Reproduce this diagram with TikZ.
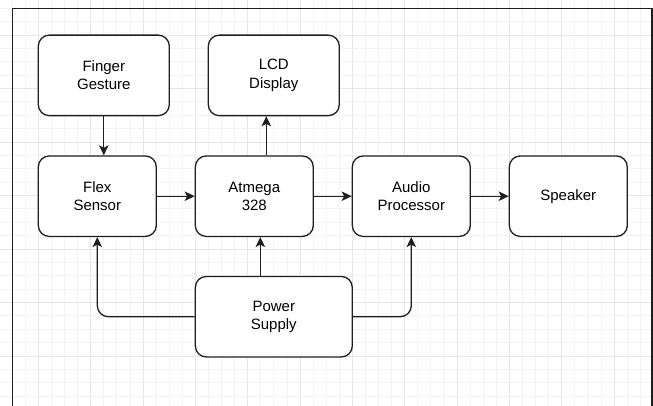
\documentclass[tikz,border=0pt]{standalone}
\usepackage{fontspec}
\setmainfont{Liberation Sans}
\usetikzlibrary{arrows.meta}
\definecolor{gridminor}{HTML}{F3F3F3}
\definecolor{gridmajor}{HTML}{E6E6E6}
\definecolor{strokec}{HTML}{1E1E1E}
\tikzset{
  blockbox/.style={draw=strokec, line width=1.3pt, rounded corners=11pt, fill=white,
    align=center, inner sep=0pt, minimum height=80.5pt, text=black,
    font=\fontsize{15}{18.3}\selectfont},
  smallbox/.style={blockbox, minimum width=118pt},
  widebox/.style={blockbox, minimum width=131pt},
  psbox/.style={blockbox, minimum width=157pt},
  arr/.style={draw=strokec, line width=1.3pt, -{Stealth[length=10pt, width=9.5pt, inset=2.5pt]}},
}
\begin{document}
\begin{tikzpicture}[x=1pt,y=-1pt]
\useasboundingbox (0,0) rectangle (653,406);
\clip (0,0) rectangle (653,406);
\fill[white] (0,0) rectangle (653,406);
% grid
\foreach \i in {-2,...,47} {
  \pgfmathsetmacro{\xx}{38.33+\i*13.083}
  \pgfmathtruncatemacro{\mm}{mod(\i+8,4)}
  \ifnum\mm=0
    \draw[gridmajor, line width=0.9pt] (\xx,0) -- (\xx,406);
  \else
    \draw[gridminor, line width=0.8pt] (\xx,0) -- (\xx,406);
  \fi
}
\foreach \j in {-2,...,27} {
  \pgfmathsetmacro{\yy}{35+\j*13.375}
  \pgfmathtruncatemacro{\mm}{mod(\j+8,4)}
  \ifnum\mm=0
    \draw[gridmajor, line width=0.9pt] (0,\yy) -- (653,\yy);
  \else
    \draw[gridminor, line width=0.8pt] (0,\yy) -- (653,\yy);
  \fi
}
% frame
\draw[strokec, line width=1.4pt] (12.5,420) -- (12.5,8.3) -- (651.8,8.3) -- (651.8,420);
% nodes
\node[widebox] (fg) at (103.8,75.4) {Finger\\Gesture};
\node[widebox] (lcd) at (273.8,75.4) {LCD\\Display};
\node[smallbox] (flex) at (97.3,196.2) {Flex\\Sensor};
\node[smallbox] (atm) at (254.3,196.2) {Atmega\\328};
\node[smallbox] (aud) at (411.3,196.2) {Audio\\Processor};
\node[smallbox] (spk) at (568.3,196.2) {Speaker};
\node[psbox] (ps) at (273.8,316.7) {Power\\Supply};
\coordinate (lcdx) at (266.3,0);
\coordinate (atmx) at (260.3,0);
% connectors
\draw[arr] (fg.south) -- (fg.south |- flex.north);
\draw[arr] (lcdx |- atm.north) -- (lcdx |- lcd.south);
\draw[arr] (flex.east) -- (atm.west);
\draw[arr] (atm.east) -- (aud.west);
\draw[arr] (aud.east) -- (spk.west);
\draw[arr] (atmx |- ps.north) -- (atmx |- atm.south);
\draw[arr, rounded corners=11pt] (ps.west) -| (flex.south);
\draw[arr, rounded corners=11pt] (ps.east) -| (aud.south);
\end{tikzpicture}
\end{document}
